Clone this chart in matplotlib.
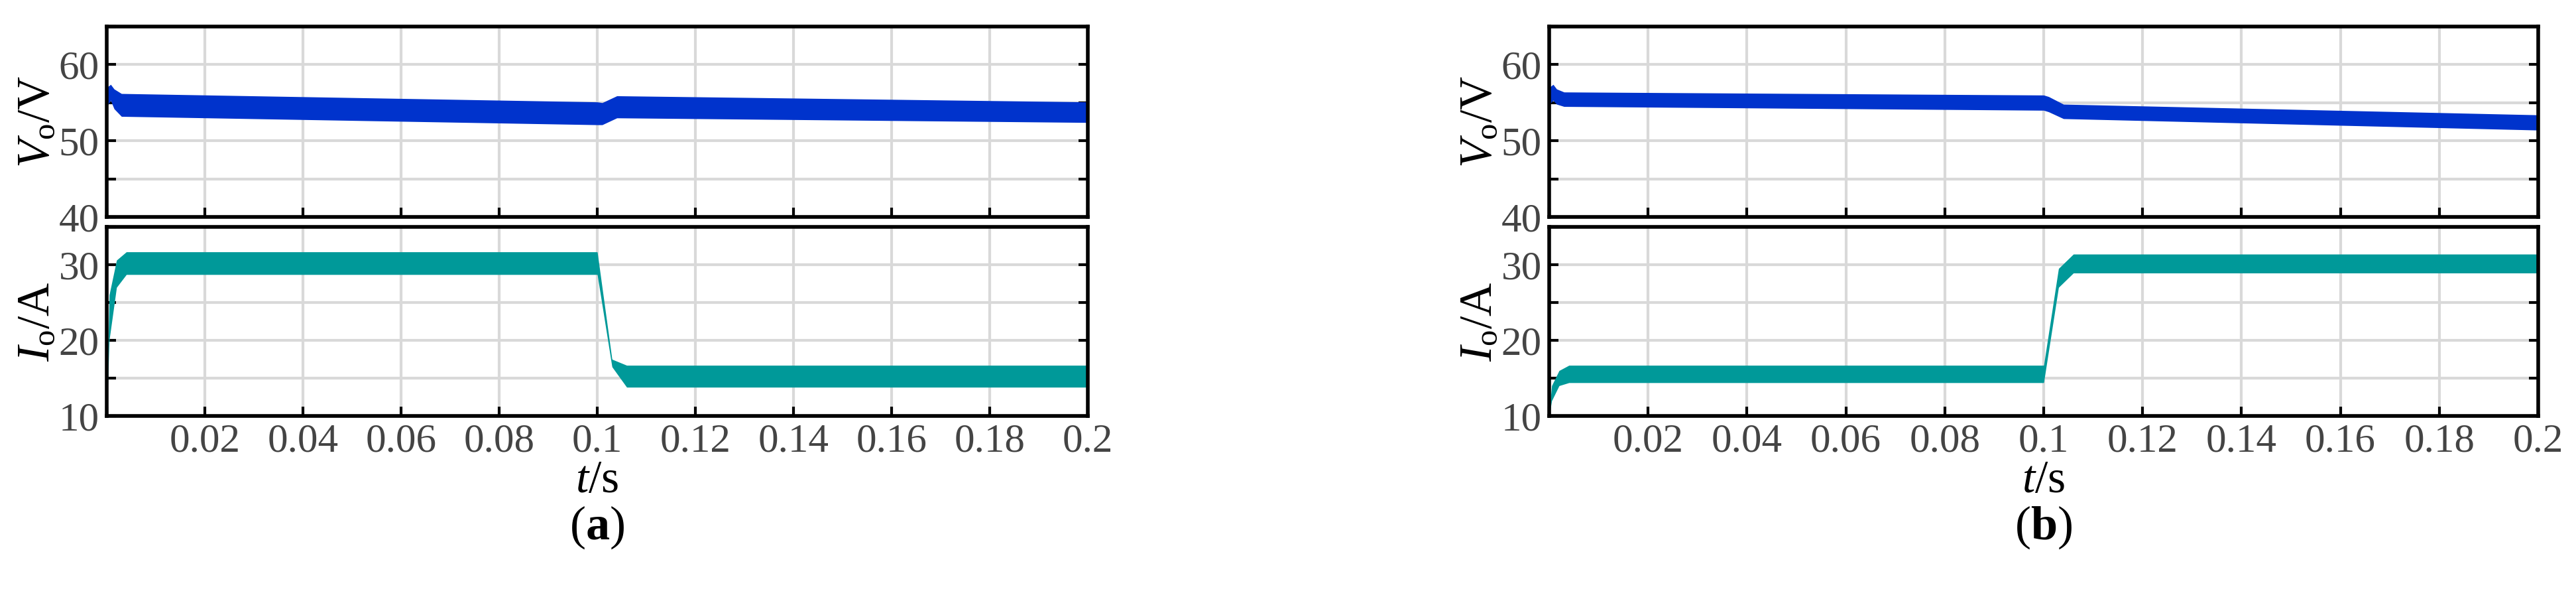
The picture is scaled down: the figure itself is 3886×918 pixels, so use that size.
import matplotlib
matplotlib.use("Agg")
import matplotlib.pyplot as plt
import numpy as np

plt.rcParams['font.family'] = ['Liberation Serif', 'DejaVu Serif']
plt.rcParams['mathtext.fontset'] = 'custom'
plt.rcParams['mathtext.rm'] = 'Liberation Serif'
plt.rcParams['mathtext.it'] = 'Liberation Serif:italic'
plt.rcParams['mathtext.bf'] = 'Liberation Serif:bold'

# envelope breakpoints (time, lower, upper)
ta_v = [0.0, 0.0008, 0.0015, 0.003, 0.1, 0.101, 0.104, 0.2]
va_lo = [54.5, 55.3, 54.2, 53.2, 52.1, 52.1, 53.0, 52.4]
va_hi = [57.0, 57.4, 56.8, 56.2, 55.1, 55.0, 55.9, 55.1]
ta_i = [0.0, 0.0005, 0.002, 0.004, 0.0998, 0.1, 0.103, 0.106, 0.2]
ia_lo = [10.0, 20.0, 27.0, 28.7, 28.7, 28.7, 16.5, 13.8, 13.8]
ia_hi = [10.5, 26.0, 30.6, 31.7, 31.7, 31.7, 17.5, 16.7, 16.7]

tb_v = [0.0, 0.0008, 0.0015, 0.003, 0.1, 0.101, 0.104, 0.2]
vb_lo = [54.8, 55.3, 54.8, 54.5, 54.0, 53.8, 52.9, 51.4]
vb_hi = [57.0, 57.4, 56.8, 56.4, 56.0, 55.8, 54.8, 53.4]
tb_i = [0.0, 0.0005, 0.002, 0.004, 0.0998, 0.1, 0.103, 0.106, 0.2]
ib_lo = [10.0, 12.0, 14.0, 14.4, 14.4, 14.4, 27.0, 28.9, 28.9]
ib_hi = [10.5, 14.0, 16.0, 16.7, 16.7, 16.7, 29.5, 31.4, 31.4]

xticklabels = ['0.02', '0.04', '0.06', '0.08', '0.1', '0.12', '0.14', '0.16', '0.18', '0.2']
vticks = [40, 50, 60]
iticks = [10, 20, 30]
panel_labels = ['a', 'b']

W, H = 3886, 918
fig = plt.figure(figsize=(W/100, H/100), dpi=100)

blue = '#0033cc'
teal = '#009999'
fs = 44

def style(ax, ylim, yticks, xlab):
    ax.set_xlim(0, 0.2)
    ax.set_ylim(*ylim)
    ax.set_xticks(np.arange(0.0, 0.2001, 0.02))
    yt = np.arange(ylim[0], ylim[1]+0.01, 5)
    ax.set_yticks(yt)
    ax.set_yticklabels([str(int(v)) if v in yticks else '' for v in yt])
    if xlab:
        ax.set_xticklabels([''] + xticklabels)
    else:
        ax.set_xticklabels([])
    ax.grid(True, color='#d9d9d9', lw=3)
    ax.set_axisbelow(True)
    ax.tick_params(direction='in', length=10, width=3, labelsize=fs, labelcolor='#444444',
                   right=True, top=False, pad=8)
    for s in ax.spines.values():
        s.set_linewidth(4)

def dense(t, lo, hi):
    tt = np.linspace(0, 0.2, 4000)
    return tt, np.interp(tt, t, lo), np.interp(tt, t, hi)

lefts = [161/W, 2337/W]
widths = [1480/W, 1492/W]
data = [(ta_v, va_lo, va_hi, ta_i, ia_lo, ia_hi), (tb_v, vb_lo, vb_hi, tb_i, ib_lo, ib_hi)]
for k in range(2):
    tv, vlo, vhi, ti, ilo, ihi = data[k]
    ax1 = fig.add_axes([lefts[k], 1-327/H, widths[k], 287/H])
    ax2 = fig.add_axes([lefts[k], 1-627/H, widths[k], 285/H])
    tt, lo, hi = dense(tv, vlo, vhi)
    ax1.fill_between(tt, lo, hi, color=blue, lw=0)
    tt, lo, hi = dense(ti, ilo, ihi)
    ax2.fill_between(tt, lo, hi, color=teal, lw=0)
    style(ax1, (40, 65), vticks, False)
    style(ax2, (10, 35), iticks, True)
    ax1.set_ylabel(r'$V_{\rm o}$/V', fontsize=fs+6, labelpad=0)
    ax2.set_ylabel(r'$I_{\rm o}$/A', fontsize=fs+6, labelpad=0)
    ax2.set_xlabel(r'$t$/s', fontsize=fs+6, labelpad=0)
    cx = lefts[k] + widths[k]/2
    fig.text(cx, 1-795/H, '(' + r'$\mathbf{%s}$' % panel_labels[k] + ')', ha='center', va='center', fontsize=fs+8)

fig.savefig('out.png', dpi=100)
